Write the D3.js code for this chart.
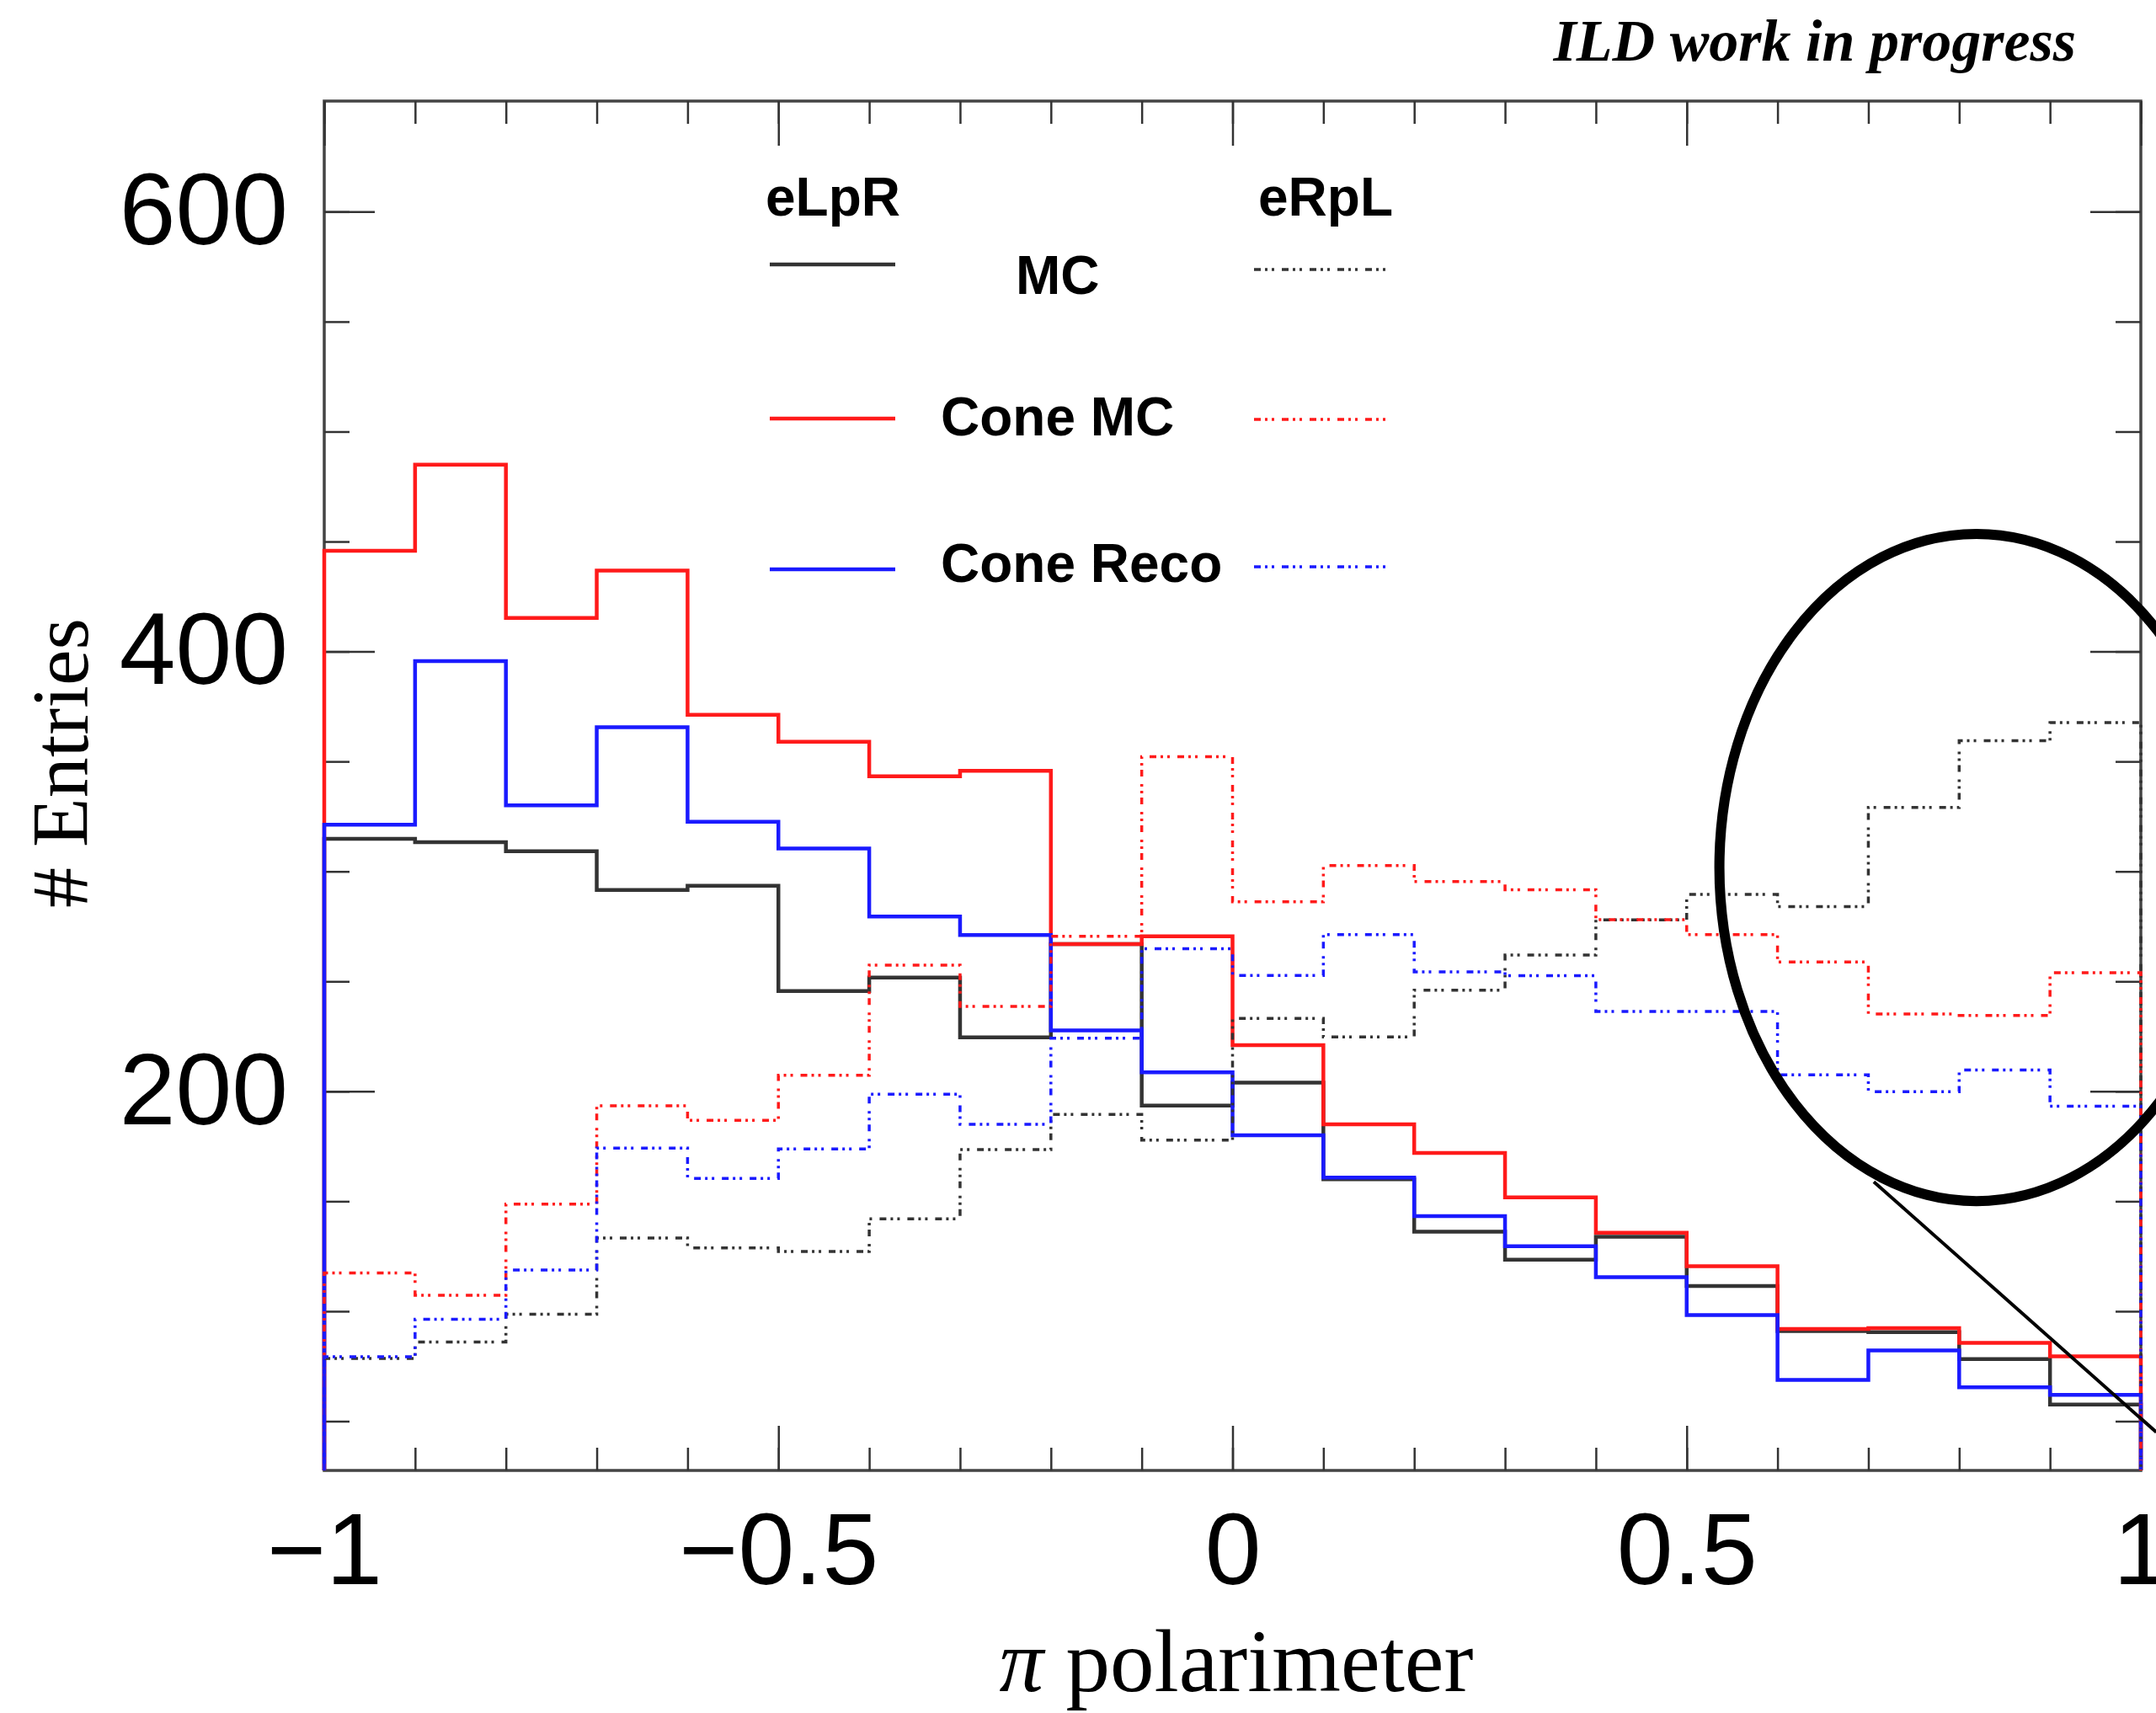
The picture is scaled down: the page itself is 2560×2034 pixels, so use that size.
<!DOCTYPE html>
<html>
<head>
<meta charset="utf-8">
<script src="https://cdn.jsdelivr.net/npm/d3@7"></script>
<style>
  body { margin: 0; background: #fff; }
  svg { display: block; }
</style>
</head>
<body>
<div id="chart"></div>
<script>
// Histogram bin edges (20 bins of width 0.1)
const binEdges = [-1, -0.9, -0.8, -0.7, -0.6, -0.5, -0.4, -0.3, -0.2, -0.1, 0,
  0.1, 0.2, 0.3, 0.4, 0.5, 0.6, 0.7, 0.8, 0.9, 1];

// eLpR (solid)
const eLpR_MC = [314.8, 313.3, 309.2, 291.6, 293.5, 245.6, 251.7, 224.5, 267, 193.5,
  204, 160, 136.2, 123.4, 133.9, 111.5, 91, 90.5, 78.2, 57.6];
const eLpR_ConeMC = [445.8, 485, 415.3, 436.8, 371.2, 359, 343.3, 345.7, 267, 270.5,
  221, 185, 172, 151.8, 135.7, 120.5, 91.9, 92.3, 85.6, 79.5];
const eLpR_ConeReco = [321.2, 395.6, 330, 365.6, 322.6, 310.4, 279.5, 271.1, 227.7, 208.6,
  180, 160.8, 143.3, 129.6, 115.5, 98.3, 68.8, 82.2, 65.4, 62];

// eRpL (dash-dot)
const eRpL_MC = [78.5, 86, 98.6, 133.3, 128.8, 127.2, 142, 173.5, 189.5, 177.8,
  233.2, 224.7, 246, 262, 278, 289.5, 284, 329.1, 359.4, 367.7];
const eRpL_ConeMC = [117.4, 107.3, 148.7, 193.4, 186.8, 207.3, 257.4, 238.6, 270.5, 352.2,
  286.2, 302.7, 295.4, 291.7, 278.1, 271.3, 258.8, 235.2, 234.5, 253.9];
const eRpL_ConeReco = [79.3, 96.3, 118.7, 174.2, 160.4, 173.8, 198.7, 185, 224.2, 264.8,
  252.7, 271.3, 254.3, 252.6, 236.3, 236.3, 207.5, 199.8, 209.7, 193.2];

// Axis ticks and labels
const xMajorTicks = [-1, -0.5, 0, 0.5, 1];
const xTickLabels = ["\u22121", "\u22120.5", "0", "0.5", "1"];
const yMajorTicks = [200, 400, 600];
const yTickLabels = ["200", "400", "600"];
const yMinorTicks = [50, 100, 150, 200, 250, 300, 350, 400, 450, 500, 550, 600];

const series = [
  { values: eLpR_MC, color: "#333333", dashed: false },
  { values: eLpR_ConeMC, color: "#ff1a1a", dashed: false },
  { values: eLpR_ConeReco, color: "#1a1aff", dashed: false },
  { values: eRpL_MC, color: "#333333", dashed: true },
  { values: eRpL_ConeMC, color: "#ff1a1a", dashed: true },
  { values: eRpL_ConeReco, color: "#1a1aff", dashed: true },
];

const DASH = "8,5,3,5,3,9";

function drawChart() {
  const width = 2560;
  const height = 2034;
  const margin = { top: 120, right: 18, bottom: 288, left: 385 };
  const x0 = margin.left, x1 = width - margin.right;
  const y0 = height - margin.bottom, y1 = margin.top;

  const svg = d3.select("#chart")
    .append("svg")
    .attr("width", width)
    .attr("height", height)
    .style("background", "#fff");

  const xScale = d3.scaleLinear().domain([-1, 1]).range([x0, x1]);
  const yScale = d3.scaleLinear().domain([27.6, 650.3]).range([y0, y1]);

  // frame
  svg.append("rect")
    .attr("x", x0).attr("y", y1)
    .attr("width", x1 - x0).attr("height", y0 - y1)
    .attr("fill", "none")
    .attr("stroke", "#444")
    .attr("stroke-width", 3.5);

  const styleTicks = g => {
    g.select(".domain").remove();
    g.selectAll(".tick line").attr("stroke", "#333").attr("stroke-width", 2.5);
  };

  // minor x ticks, bottom + top
  svg.append("g")
    .attr("transform", `translate(0,${y0})`)
    .call(d3.axisBottom(xScale).ticks(20).tickSize(-27).tickSizeOuter(0).tickFormat(""))
    .call(styleTicks);
  svg.append("g")
    .attr("transform", `translate(0,${y1})`)
    .call(d3.axisTop(xScale).ticks(20).tickSize(-27).tickSizeOuter(0).tickFormat(""))
    .call(styleTicks);

  // major x ticks with labels
  svg.append("g")
    .attr("transform", `translate(0,${y0})`)
    .call(d3.axisBottom(xScale).tickValues(xMajorTicks).tickSize(-53).tickSizeOuter(0)
      .tickPadding(50).tickFormat((d, i) => xTickLabels[i]))
    .call(styleTicks)
    .attr("font-family", "'Liberation Sans', Arial, sans-serif")
    .attr("font-size", 120)
    .selectAll("text").attr("fill", "#000");
  svg.append("g")
    .attr("transform", `translate(0,${y1})`)
    .call(d3.axisTop(xScale).tickValues(xMajorTicks).tickSize(-53).tickSizeOuter(0).tickFormat(""))
    .call(styleTicks);

  // y ticks, left + right
  svg.append("g")
    .attr("transform", `translate(${x0},0)`)
    .call(d3.axisLeft(yScale).tickValues(yMinorTicks).tickSize(-30).tickSizeOuter(0).tickFormat(""))
    .call(styleTicks);
  svg.append("g")
    .attr("transform", `translate(${x1},0)`)
    .call(d3.axisRight(yScale).tickValues(yMinorTicks).tickSize(-30).tickSizeOuter(0).tickFormat(""))
    .call(styleTicks);
  svg.append("g")
    .attr("transform", `translate(${x0},0)`)
    .call(d3.axisLeft(yScale).tickValues(yMajorTicks).tickSize(-60).tickSizeOuter(0)
      .tickPadding(43).tickFormat((d, i) => yTickLabels[i]))
    .call(styleTicks)
    .attr("font-family", "'Liberation Sans', Arial, sans-serif")
    .attr("font-size", 120)
    .selectAll("text").attr("fill", "#000");
  svg.append("g")
    .attr("transform", `translate(${x1},0)`)
    .call(d3.axisRight(yScale).tickValues(yMajorTicks).tickSize(-60).tickSizeOuter(0).tickFormat(""))
    .call(styleTicks);

  // histogram outlines
  const yBase = yScale.domain()[0];
  const line = d3.line().x(d => xScale(d[0])).y(d => yScale(d[1]));
  const outline = values => {
    const pts = [[binEdges[0], yBase]];
    values.forEach((v, i) => {
      pts.push([binEdges[i], v]);
      pts.push([binEdges[i + 1], v]);
    });
    pts.push([binEdges[binEdges.length - 1], yBase]);
    return pts;
  };

  svg.append("g")
    .selectAll("path")
    .data(series)
    .join("path")
    .attr("d", d => line(outline(d.values)))
    .attr("fill", "none")
    .attr("stroke", d => d.color)
    .attr("stroke-width", d => d.dashed ? 3.5 : 4.5)
    .attr("stroke-dasharray", d => d.dashed ? DASH : null);

  // legend
  const legendFont = "'Liberation Sans', Arial, sans-serif";
  const legend = svg.append("g")
    .attr("font-family", legendFont)
    .attr("font-weight", "bold")
    .attr("font-size", 64)
    .attr("fill", "#000");
  legend.append("text").attr("x", 909).attr("y", 256).text("eLpR");
  legend.append("text").attr("x", 1494).attr("y", 256).text("eRpL");
  legend.append("text").attr("x", 1206).attr("y", 349).text("MC");
  legend.append("text").attr("x", 1117).attr("y", 517).text("Cone MC");
  legend.append("text").attr("x", 1117).attr("y", 691).text("Cone Reco");

  const legendRows = [
    { color: "#333333", ySolid: 314, yDash: 320 },
    { color: "#ff1a1a", ySolid: 497, yDash: 498 },
    { color: "#1a1aff", ySolid: 676, yDash: 673 },
  ];
  legendRows.forEach(r => {
    svg.append("line")
      .attr("x1", 914).attr("x2", 1063)
      .attr("y1", r.ySolid).attr("y2", r.ySolid)
      .attr("stroke", r.color).attr("stroke-width", 4.5);
    svg.append("line")
      .attr("x1", 1489).attr("x2", 1646)
      .attr("y1", r.yDash).attr("y2", r.yDash)
      .attr("stroke", r.color).attr("stroke-width", 3.5)
      .attr("stroke-dasharray", DASH);
  });

  // ellipse annotation
  const cx = xScale(0.819), cy = yScale(301.8);
  const rx = xScale(0.819 + 0.283) - cx;
  const ry = cy - yScale(301.8 + 151.7);
  svg.append("ellipse")
    .attr("cx", cx).attr("cy", cy)
    .attr("rx", rx).attr("ry", ry)
    .attr("fill", "none")
    .attr("stroke", "#000")
    .attr("stroke-width", 12);
  svg.append("line")
    .attr("x1", xScale(0.706)).attr("y1", yScale(158.9))
    .attr("x2", xScale(1.017)).attr("y2", yScale(45))
    .attr("stroke", "#000")
    .attr("stroke-width", 4);

  // titles
  svg.append("text")
    .attr("x", 2465).attr("y", 72)
    .attr("text-anchor", "end")
    .attr("font-family", "'Liberation Serif', 'Times New Roman', serif")
    .attr("font-weight", "bold")
    .attr("font-style", "italic")
    .attr("font-size", 70)
    .text("ILD work in progress");

  const xTitle = svg.append("text")
    .attr("x", 1468).attr("y", 2008)
    .attr("text-anchor", "middle")
    .attr("font-family", "'Liberation Serif', 'Times New Roman', serif")
    .attr("font-size", 105);
  xTitle.append("tspan").attr("font-style", "italic").text("\u03c0");
  xTitle.append("tspan").text(" polarimeter");

  svg.append("text")
    .attr("transform", "translate(104,906) rotate(-90)")
    .attr("text-anchor", "middle")
    .attr("font-family", "'Liberation Serif', 'Times New Roman', serif")
    .attr("font-size", 96)
    .text("# Entries");
}

drawChart();
</script>
</body>
</html>
